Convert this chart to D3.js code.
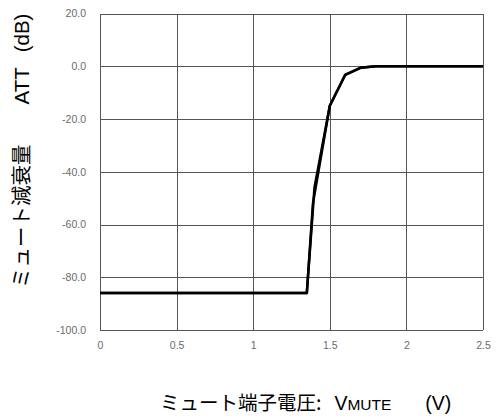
<!DOCTYPE html>
<html><head><meta charset="utf-8">
<script src="https://cdn.jsdelivr.net/npm/d3@7"></script>
<style>body{margin:0;background:#fff}</style>
</head><body>
<svg id="c" width="497" height="416"></svg>
<script>
const xTicks = [0, 0.5, 1, 1.5, 2, 2.5];
const xTickLabels = ["0", "0.5", "1", "1.5", "2", "2.5"];
const yTicks = [20, 0, -20, -40, -60, -80, -100];
const yTickLabels = ["20.0", "0.0", "-20.0", "-40.0", "-60.0", "-80.0", "-100.0"];
const seriesA_v = [0, 1.35, 1.39, 1.5, 1.6, 1.7, 1.8, 2.5];
const seriesA_db = [-86, -86, -52, -15, -3.3, -0.6, 0, 0];
const seriesB_v = [0, 1.35, 1.40, 1.5, 1.6, 1.7, 1.8, 2.5];
const seriesB_db = [-86, -86, -46, -15, -3.3, -0.6, 0, 0];

const svg = d3.select("#c");
const x = d3.scaleLinear().domain([0, 2.5]).range([100, 483]);
const y = d3.scaleLinear().domain([-100, 20]).range([330, 13.5]);

// grid
const g = svg.append("g").attr("shape-rendering", "crispEdges");
g.selectAll(".vx").data(xTicks).enter().append("line")
  .attr("x1", d => Math.round(x(d)) + 0.5).attr("x2", d => Math.round(x(d)) + 0.5)
  .attr("y1", y(20)).attr("y2", y(-100)).attr("stroke", "#555").attr("stroke-width", 1);
g.selectAll(".hy").data(yTicks).enter().append("line")
  .attr("y1", d => Math.round(y(d)) + 0.5).attr("y2", d => Math.round(y(d)) + 0.5)
  .attr("x1", x(0)).attr("x2", x(2.5)).attr("stroke", "#555").attr("stroke-width", 1);

// tick labels
const tickFont = "Liberation Sans, Arial, sans-serif";
const xAxis = d3.axisBottom(x).tickValues(xTicks).tickSize(0).tickFormat((d, i) => xTickLabels[i]);
const xa = svg.append("g").attr("transform", `translate(0,${y(-100) + 9})`).call(xAxis);
xa.select(".domain").remove();
xa.selectAll("text").attr("fill", "#6a6a6a").style("font-family", tickFont).style("font-size", "10.5px");

const yAxis = d3.axisLeft(y).tickValues(yTicks).tickSize(0).tickFormat((d, i) => yTickLabels[i]);
const ya = svg.append("g").attr("transform", `translate(${x(0) - 11},0)`).call(yAxis);
ya.select(".domain").remove();
ya.selectAll("text").attr("fill", "#6a6a6a").style("font-family", tickFont).style("font-size", "10.5px");

// lines
const line = d3.line().x(d => x(d[0])).y(d => y(d[1]));
const dataA = seriesA_v.map((v, i) => [v, seriesA_db[i]]);
const dataB = seriesB_v.map((v, i) => [v, seriesB_db[i]]);
[dataA, dataB].forEach(dd => {
  svg.append("path").datum(dd).attr("d", line).attr("fill", "none")
    .attr("stroke", "#000").attr("stroke-width", 2.5).attr("stroke-linejoin", "round");
});

// axis titles
const jp = "'Noto Sans CJK JP', sans-serif";
const lat = "'Liberation Sans', Arial, sans-serif";
const yt = svg.append("text").attr("transform", "translate(29,288) rotate(-90)")
  .attr("text-anchor", "start").attr("fill", "#000")
  .style("font-family", jp).style("font-size", "20.5px");
yt.append("tspan").text("ミュート減衰量");
yt.append("tspan").attr("dx", 40).style("font-family", lat).text("ATT");
yt.append("tspan").attr("dx", 15).style("font-family", lat).text("(dB)");

const xt = svg.append("text").attr("x", 160).attr("y", 410).attr("text-anchor", "start").attr("fill", "#000")
  .style("font-family", jp).style("font-size", "19.5px");
xt.append("tspan").text("ミュート端子電圧:");
xt.append("tspan").attr("dx", 13).style("font-family", lat).text("V");
xt.append("tspan").style("font-family", lat).style("font-size", "15.5px").text("MUTE");
xt.append("tspan").attr("dx", 34).style("font-family", lat).text("(V)");
</script>
</body></html>
